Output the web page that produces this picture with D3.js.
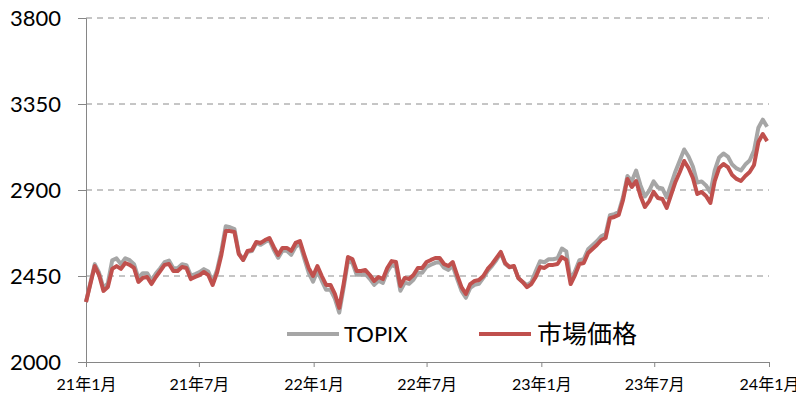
<!DOCTYPE html>
<html>
<head>
<meta charset="utf-8">
<script src="https://cdn.jsdelivr.net/npm/d3@7"></script>
<style>
  html, body { margin: 0; padding: 0; background: #ffffff; }
  svg { display: block; }
</style>
</head>
<body>
<svg id="chart" width="796" height="401"></svg>
<script>
// ---- data (weekly, starting 2021-01-01) ----
const startDate = "2021-01-01";
const marketPrice = [
  2314,2408,2502,2455,2372,2392,2487,2502,2487,2518,2508,2492,2419,2440,2445,2408,2445,2476,2508,2513,
  2476,2476,2497,2492,2434,2445,2455,2471,2455,2403,2466,2560,2685,2685,2680,2565,2534,2581,2586,2628,
  2623,2638,2649,2602,2560,2597,2597,2581,2623,2633,2560,2492,2450,2502,2450,2403,2403,2356,2283,2408,
  2549,2539,2476,2476,2481,2455,2424,2445,2434,2492,2528,2523,2398,2440,2434,2455,2492,2492,2523,2534,
  2544,2544,2513,2502,2523,2455,2392,2356,2408,2424,2429,2450,2487,2513,2544,2576,2518,2497,2502,2440,
  2419,2392,2408,2445,2497,2492,2508,2508,2513,2549,2534,2408,2455,2513,2518,2570,2591,2612,2638,2649,
  2753,2759,2769,2848,2958,2916,2947,2869,2811,2842,2890,2858,2853,2806,2874,2942,2994,3052,3015,2963,
  2879,2890,2869,2832,2947,3015,3036,3020,2978,2958,2947,2973,2994,3031,3151,3193,3156
];
const topix = [
  2314,2413,2512,2467,2387,2412,2532,2542,2512,2543,2533,2512,2439,2465,2465,2426,2463,2491,2523,2531,
  2491,2491,2512,2507,2452,2460,2470,2486,2473,2418,2481,2580,2710,2705,2695,2570,2534,2576,2581,2623,
  2613,2628,2639,2587,2545,2582,2582,2561,2603,2618,2540,2467,2420,2477,2425,2378,2378,2331,2258,2388,
  2529,2519,2456,2456,2461,2435,2404,2425,2414,2472,2508,2498,2373,2415,2409,2430,2467,2467,2498,2509,
  2519,2524,2493,2482,2503,2435,2372,2336,2388,2404,2409,2440,2477,2503,2534,2571,2513,2495,2500,2440,
  2419,2402,2418,2475,2527,2522,2538,2538,2543,2594,2579,2428,2475,2533,2538,2590,2611,2632,2658,2669,
  2768,2774,2784,2863,2973,2946,3002,2924,2866,2897,2945,2913,2908,2861,2929,2997,3054,3112,3075,3023,
  2939,2945,2924,2887,3002,3070,3091,3075,3033,3013,3002,3033,3054,3106,3226,3268,3231
];
const yTicks = [2000, 2450, 2900, 3350, 3800];
const xTickDates = ["2021-01-01","2021-07-01","2022-01-01","2022-07-01","2023-01-01","2023-07-01","2024-01-01"];
const xTickLabels = ["21年1月","21年7月","22年1月","22年7月","23年1月","23年7月","24年1月"];
const seriesNames = ["TOPIX", "市場価格"];
const seriesColors = ["#A6A6A6", "#C0504D"];

// ---- build ----
(function () {
const parse = d3.timeParse("%Y-%m-%d");
const t0 = parse(startDate);
const dates = marketPrice.map((_, i) => d3.timeDay.offset(t0, i * 7));
const tickDates = xTickDates.map(parse);

const svg = d3.select("#chart");
const mLeft = 86, mRight = 769, mTop = 18, mBottom = 362;

const x = d3.scaleTime().domain([tickDates[0], tickDates[tickDates.length - 1]]).range([mLeft, mRight]);
const y = d3.scaleLinear().domain([2000, 3800]).range([mBottom, mTop]);

const axisColor = "#868686";

// gridlines
svg.append("g").selectAll("line")
  .data(yTicks.filter(v => v !== 2000))
  .join("line")
  .attr("x1", mLeft).attr("x2", mRight)
  .attr("y1", d => y(d)).attr("y2", d => y(d))
  .attr("stroke", "#8c8c8c").attr("stroke-width", 1)
  .attr("stroke-dasharray", "6,5");

// y axis
const yAxis = svg.append("g").attr("transform", `translate(${mLeft},0)`)
  .call(d3.axisLeft(y).tickValues(yTicks).tickSize(8).tickPadding(17).tickFormat(d3.format("d")));
yAxis.select(".domain").attr("stroke", axisColor);
yAxis.selectAll(".tick line").attr("stroke", axisColor);
yAxis.selectAll(".tick text").attr("fill", "#000").style("font-family", "Lato, 'Liberation Sans', sans-serif").style("font-size", "22px");

// x axis
const xAxis = svg.append("g").attr("transform", `translate(0,${mBottom})`)
  .call(d3.axisBottom(x).tickValues(tickDates).tickSize(5).tickPadding(12).tickFormat((d, i) => xTickLabels[i]));
xAxis.select(".domain").attr("stroke", axisColor);
xAxis.selectAll(".tick line").attr("stroke", axisColor);
xAxis.selectAll(".tick text").attr("fill", "#000").style("font-family", "Lato, 'Noto Sans CJK JP', sans-serif").style("font-size", "16px");

// lines
const line = d3.line().x((d, i) => x(dates[i])).y(d => y(d)).curve(d3.curveLinear);
[topix, marketPrice].forEach((s, k) => {
  svg.append("path").datum(s)
    .attr("fill", "none")
    .attr("stroke", seriesColors[k])
    .attr("stroke-width", 4)
    .attr("stroke-linejoin", "round")
    .attr("d", line);
});

// legend
const legendY = 334;
const legendItems = [
  { x1: 287, x2: 339, tx: 344, size: "22px", font: "Lato, 'Liberation Sans', sans-serif" },
  { x1: 479, x2: 531, tx: 537, size: "25px", font: "'Noto Sans CJK JP', sans-serif" }
];
legendItems.forEach((it, k) => {
  svg.append("line").attr("x1", it.x1).attr("x2", it.x2).attr("y1", legendY).attr("y2", legendY)
    .attr("stroke", seriesColors[k]).attr("stroke-width", 4);
  svg.append("text").attr("x", it.tx).attr("y", legendY).attr("dy", "0.35em")
    .style("font-family", it.font).style("font-size", it.size).attr("fill", "#000")
    .text(seriesNames[k]);
});
})();
</script>
</body>
</html>
